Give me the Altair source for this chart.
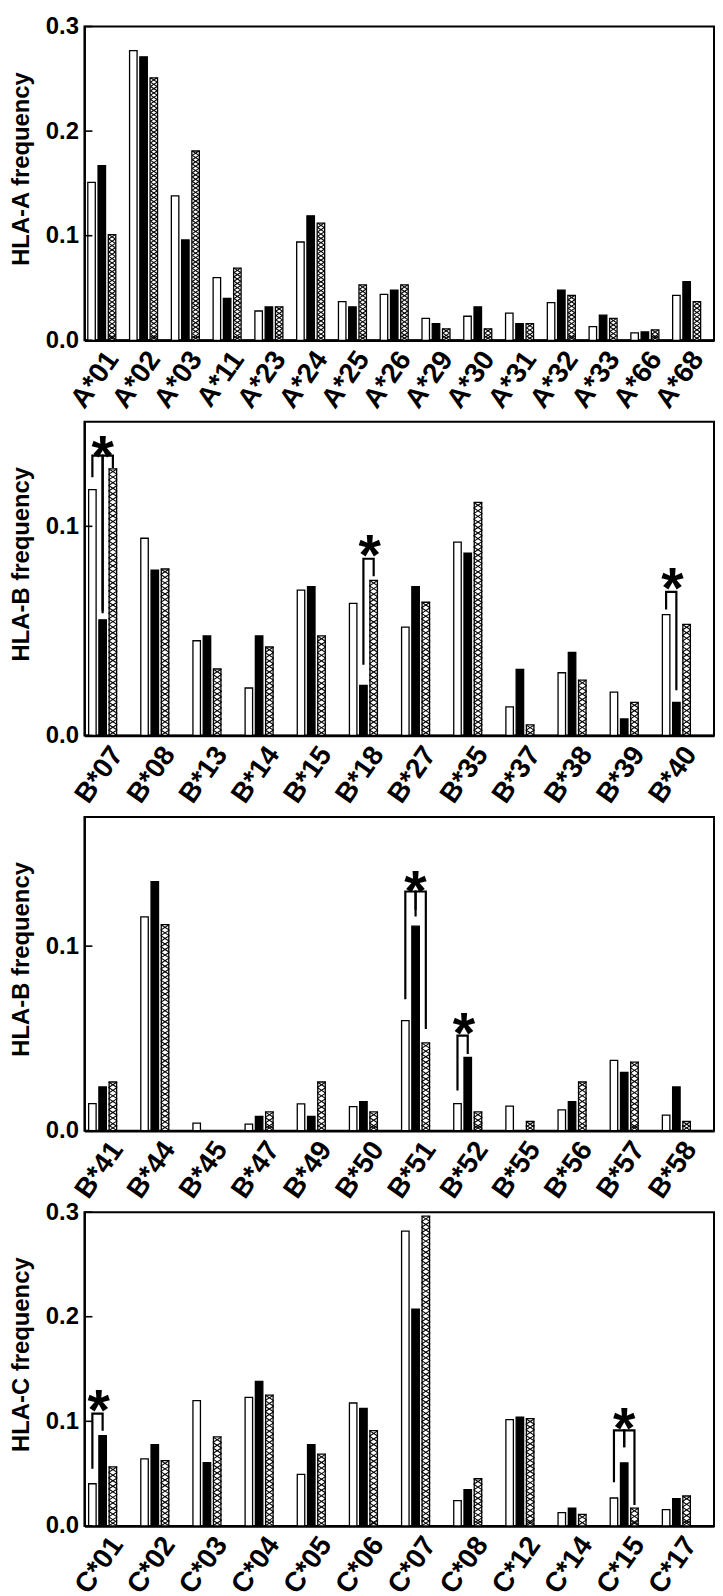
import altair as alt
import pandas as pd

# ---------------- data ----------------
SERIES = ["Group 1", "Group 2", "Group 3"]  # white, black, cross-hatched

A_CATS = ["A*01", "A*02", "A*03", "A*11", "A*23", "A*24", "A*25", "A*26",
          "A*29", "A*30", "A*31", "A*32", "A*33", "A*66", "A*68"]
A_WHITE = [0.151, 0.277, 0.138, 0.060, 0.028, 0.094, 0.037, 0.044, 0.021, 0.023, 0.026, 0.036, 0.013, 0.007, 0.043]
A_BLACK = [0.167, 0.271, 0.096, 0.040, 0.032, 0.119, 0.032, 0.048, 0.016, 0.032, 0.016, 0.048, 0.024, 0.008, 0.056]
A_HATCH = [0.101, 0.251, 0.181, 0.069, 0.032, 0.112, 0.053, 0.053, 0.011, 0.011, 0.016, 0.043, 0.021, 0.010, 0.037]

B1_CATS = ["B*07", "B*08", "B*13", "B*14", "B*15", "B*18", "B*27", "B*35",
           "B*37", "B*38", "B*39", "B*40"]
B1_WHITE = [0.1175, 0.0943, 0.0453, 0.0227, 0.0695, 0.0632, 0.0518, 0.0924, 0.0137, 0.0300, 0.0207, 0.0578]
B1_BLACK = [0.0553, 0.0791, 0.0476, 0.0476, 0.0712, 0.0240, 0.0712, 0.0872, 0.0316, 0.0397, 0.0079, 0.0158]
B1_HATCH = [0.1275, 0.0796, 0.0318, 0.0423, 0.0476, 0.0742, 0.0637, 0.1114, 0.0051, 0.0265, 0.0158, 0.0531]

B2_CATS = ["B*41", "B*44", "B*45", "B*47", "B*49", "B*50", "B*51", "B*52",
           "B*55", "B*56", "B*57", "B*58"]
B2_WHITE = [0.0147, 0.1158, 0.0041, 0.0036, 0.0145, 0.0131, 0.0596, 0.0147, 0.0133, 0.0113, 0.0381, 0.0084]
B2_BLACK = [0.0237, 0.1350, 0.0, 0.0077, 0.0077, 0.0158, 0.1108, 0.0397, 0.0, 0.0158, 0.0316, 0.0237]
B2_HATCH = [0.0264, 0.1117, 0.0, 0.0102, 0.0264, 0.0102, 0.0476, 0.0102, 0.0050, 0.0264, 0.0372, 0.0050]

C_CATS = ["C*01", "C*02", "C*03", "C*04", "C*05", "C*06", "C*07", "C*08",
          "C*12", "C*14", "C*15", "C*17"]
C_WHITE = [0.0403, 0.0641, 0.1197, 0.1229, 0.0492, 0.1175, 0.2819, 0.0241, 0.1016, 0.0127, 0.0267, 0.0156]
C_BLACK = [0.0863, 0.0778, 0.0606, 0.1381, 0.0778, 0.1124, 0.2073, 0.0346, 0.1041, 0.0171, 0.0603, 0.0260]
C_HATCH = [0.0565, 0.0625, 0.0851, 0.1251, 0.0686, 0.0911, 0.2962, 0.0451, 0.1025, 0.0111, 0.0171, 0.0286]

# significance brackets: (allele, series left, low left, series right, low right, top)
B1_BRACKETS = [("B*07", 0, 0.1240, 1, 0.0600, 0.1338),
               ("B*07", 1, 0.0590, 2, 0.1284, 0.1338),
               ("B*18", 1, 0.0343, 2, 0.0766, 0.0845),
               ("B*40", 0, 0.0608, 1, 0.0221, 0.0687)]
B2_BRACKETS = [("B*51", 0, 0.0718, 1, 0.1203, 0.1296),
               ("B*51", 1, 0.1167, 2, 0.0557, 0.1296),
               ("B*52", 0, 0.0224, 1, 0.0422, 0.0515)]
C_BRACKETS = [("C*01", 0, 0.0556, 1, 0.0921, 0.1073),
              ("C*15", 0, 0.0429, 1, 0.0762, 0.0914),
              ("C*15", 1, 0.0762, 2, 0.0210, 0.0914)]
# asterisks: (allele, anchor series, y, between-bars flag)
B1_STARS = [("B*07", 1, 0.1398, 0), ("B*18", 1, 0.0924, 1), ("B*40", 0, 0.0766, 1)]
B2_STARS = [("B*51", 1, 0.1370, 0), ("B*52", 0, 0.0601, 1)]
C_STARS = [("C*01", 0, 0.1232, 1), ("C*15", 1, 0.1063, 0)]

# ---------------- layout ----------------
W, H = 634, 316
P_IN, P_OUT, ALIGN = 0.33, 0.2, 0.2
SUB_PAD = 0.27
FONT = "Liberation Sans"
X_SHAPE = "M-1,-0.65L1,0.65M-1,0.65L1,-0.65"
LABEL_ANGLE = -55


def geometry(n):
    step = W / (n - P_IN + 2 * P_OUT)
    band = step * (1 - P_IN)
    sub = band / (3 - SUB_PAD)
    return sub, sub * (1 - SUB_PAD)


def panel(cats, white, black, hatch, ymax, ticks, title, brackets, stars):
    n = len(cats)
    sub, barw = geometry(n)
    rows = []
    for i, c in enumerate(cats):
        for s, vals in enumerate((white, black, hatch)):
            rows.append({"allele": c, "series": SERIES[s], "value": vals[i]})
    df = pd.DataFrame(rows)

    xs = alt.Scale(domain=cats, paddingInner=P_IN, paddingOuter=P_OUT, align=ALIGN)
    xo = alt.Scale(domain=SERIES, paddingInner=SUB_PAD, paddingOuter=0)
    ys = alt.Scale(domain=[0, ymax], nice=False, zero=True)
    xaxis = alt.Axis(title=None, labelAngle=LABEL_ANGLE, labelAlign="right", labelBaseline="top",
                     labelPadding=6, labelFontSize=28, labelFontWeight="bold",
                     labelFont=FONT, labelColor="black", domain=True, domainColor="black",
                     domainWidth=2.6, ticks=False)
    yaxis = alt.Axis(title=title, values=ticks, format=".1f", labelFontSize=24,
                     labelFontWeight="bold", labelFont=FONT, labelColor="black",
                     labelPadding=6, titleFontSize=24, titleFontWeight="bold",
                     titleFont=FONT, titleColor="black", titlePadding=12, titleY=H / 2 - 15,
                     domain=True, domainColor="black", domainWidth=2, ticks=False, grid=False)

    def X():
        return alt.X("allele:N", scale=xs, axis=xaxis, sort=cats)

    def XO():
        return alt.XOffset("series:N", scale=xo, sort=SERIES)

    def Y(f):
        return alt.Y(f + ":Q", scale=ys, axis=yaxis)

    bars = alt.Chart(df).mark_bar(stroke="black", strokeWidth=1.3).encode(
        x=X(), xOffset=XO(), y=Y("value"),
        fill=alt.Fill("series:N", scale=alt.Scale(domain=SERIES, range=["white", "black", "white"]),
                      legend=None),
    )

    # cross hatching as a stack of X glyphs inside the third bar of each group
    ppu = H / ymax
    w = barw - 0.8
    pitch = 0.65 * w
    hrows = []
    for c, v in zip(cats, hatch):
        hpx = v * ppu
        if hpx < 2:
            continue
        k = int(hpx // pitch)
        centers = [hpx - pitch * (j + 0.5) for j in range(k)]
        if k == 0:
            centers = [hpx / 2]
        elif hpx - k * pitch > 0.6:
            centers.append(pitch / 2)
        for cp in centers:
            hrows.append({"allele": c, "series": SERIES[2], "hy": cp / ppu})
    hatch_layer = alt.Chart(pd.DataFrame(hrows)).mark_point(
        shape=X_SHAPE, filled=False, stroke="black", strokeWidth=1.1, opacity=1, size=w * w
    ).encode(x=X(), xOffset=XO(), y=Y("hy"))

    tick_layer = alt.Chart(pd.DataFrame({"tick": ticks})).mark_rule(
        color="black", strokeWidth=1.6
    ).encode(y=Y("tick"), x=alt.value(0), x2=alt.value(8))

    layers = [bars, hatch_layer, tick_layer]

    if brackets:
        brows = []
        for b, (c, s1, l1, s2, l2, top) in enumerate(brackets):
            pts = [(SERIES[s1], l1), (SERIES[s1], top), (SERIES[s2], top), (SERIES[s2], l2)]
            for j, (s, yv) in enumerate(pts):
                brows.append({"allele": c, "series": s, "by": yv, "bid": b, "ord": j})
        br = alt.Chart(pd.DataFrame(brows)).mark_line(
            color="black", strokeWidth=2.2, strokeJoin="miter", strokeCap="square"
        ).encode(x=X(), xOffset=XO(), y=Y("by"), detail="bid:N", order="ord:Q")
        layers.append(br)

    if stars:
        for flag in (0, 1):
            srows = [{"allele": c, "series": SERIES[s], "sy": yv}
                     for (c, s, yv, f) in stars if f == flag]
            if not srows:
                continue
            st = alt.Chart(pd.DataFrame(srows)).mark_text(
                text="*", fontSize=58, fontWeight="bold", font=FONT, color="black",
                baseline="alphabetic", align="center", dy=33, dx=(sub / 2 if flag else 0)
            ).encode(x=X(), xOffset=XO(), y=Y("sy"))
            layers.append(st)

    return alt.layer(*layers).properties(
        width=W, height=H, view=alt.ViewBackground(stroke="black", strokeWidth=2, fill="white")
    )


p1 = panel(A_CATS, A_WHITE, A_BLACK, A_HATCH, 0.3, [0.0, 0.1, 0.2, 0.3], "HLA-A frequency", [], [])
p2 = panel(B1_CATS, B1_WHITE, B1_BLACK, B1_HATCH, 0.15, [0.0, 0.1], "HLA-B frequency", B1_BRACKETS, B1_STARS)
p3 = panel(B2_CATS, B2_WHITE, B2_BLACK, B2_HATCH, 0.17, [0.0, 0.1], "HLA-B frequency", B2_BRACKETS, B2_STARS)
p4 = panel(C_CATS, C_WHITE, C_BLACK, C_HATCH, 0.3, [0.0, 0.1, 0.2, 0.3], "HLA-C frequency", C_BRACKETS, C_STARS)

chart = alt.vconcat(p1, p2, p3, p4, spacing=82, bounds="flush").properties(
    padding={"left": 0, "top": 0, "right": 0, "bottom": 0}
).configure_view(stroke="black", strokeWidth=2).configure(font=FONT, background="white")

chart.save("out.html", embed_options={"renderer": "svg", "actions": False})
